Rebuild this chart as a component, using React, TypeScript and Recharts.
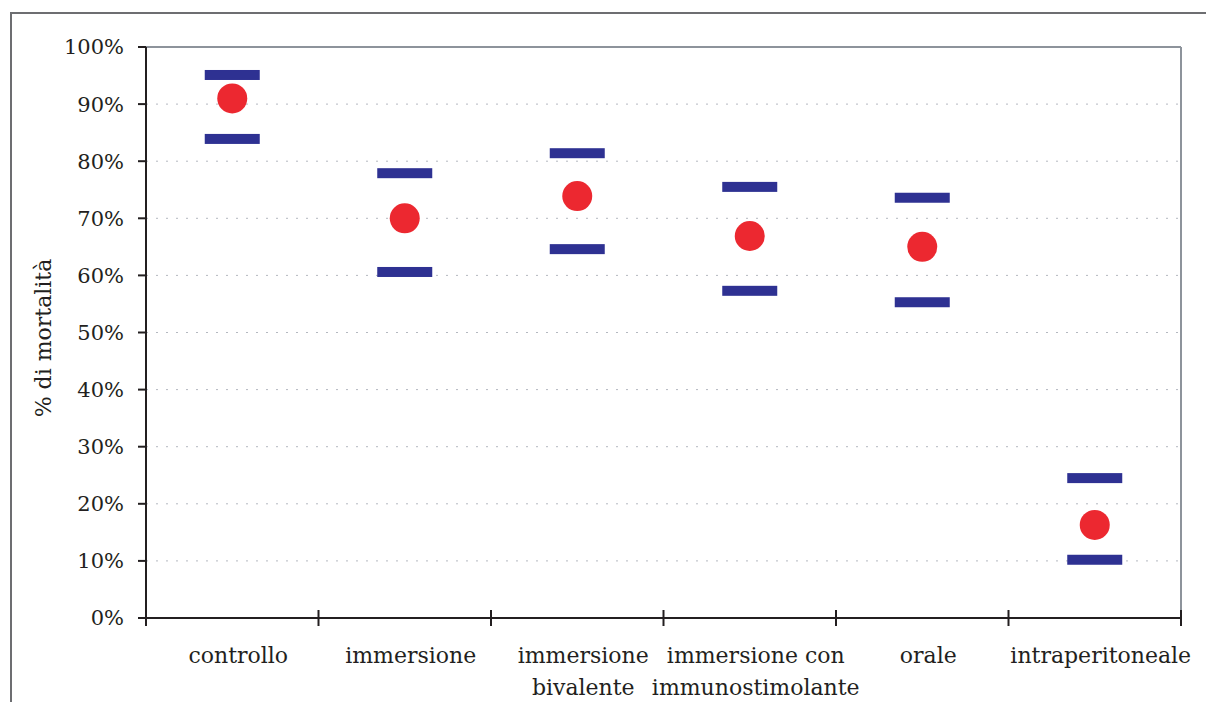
import {
  CartesianGrid,
  ComposedChart,
  ReferenceLine,
  Scatter,
  XAxis,
  YAxis,
} from "recharts";

// treatment groups, with their axis label split over lines
const groups = [
  "controllo",
  "immersione",
  "immersione bivalente",
  "immersione con immunostimolante",
  "orale",
  "intraperitoneale",
];
const groupLines = [
  ["controllo"],
  ["immersione"],
  ["immersione", "bivalente"],
  ["immersione con", "immunostimolante"],
  ["orale"],
  ["intraperitoneale"],
];

// mortality (%) : mean with upper / lower limits
const mortality = [91, 70, 73.9, 66.9, 65, 16.3];
const upperLimit = [95.1, 77.9, 81.4, 75.5, 73.6, 24.5];
const lowerLimit = [83.9, 60.6, 64.6, 57.3, 55.3, 10.2];

const yTicks = [0, 10, 20, 30, 40, 50, 60, 70, 80, 90, 100];
const xTicks = [0, 1, 2, 3, 4, 5, 6];

const toPoints = (vals: number[]) =>
  vals.map((v, i) => ({ x: i + 0.5, y: v, name: groups[i] }));

const meanData = toPoints(mortality);
const upperData = toPoints(upperLimit);
const lowerData = toPoints(lowerLimit);

const FONT = "'DejaVu Serif', serif";
const INK = "#231f20";
const FRAME = "#8d939b";
const BAND = 1035 / 6;

const LimitBar = (props: any) => (
  <rect x={props.cx - 27.5} y={props.cy - 5} width={55} height={10} fill="#2e3192" />
);

const MeanDot = (props: any) => (
  <circle cx={props.cx} cy={props.cy} r={15} fill="#ec2830" />
);

const GroupTick = (props: any) => {
  const { x, y, payload } = props;
  const i = payload.value;
  const lines = groupLines[i] || [];
  const cx = x + BAND / 2 + 6;
  return (
    <g>
      <line x1={x} x2={x} y1={y - 8} y2={y + 8} stroke={INK} strokeWidth={2} />
      {lines.length > 0 && (
        <text x={cx} y={y + 45} textAnchor="middle" fill={INK} fontFamily={FONT} fontSize={22}>
          {lines.map((l, k) => (
            <tspan key={k} x={cx} dy={k === 0 ? 0 : 32}>
              {l}
            </tspan>
          ))}
        </text>
      )}
    </g>
  );
};

const AxisTitle = () => (
  <text
    x={43}
    y={338}
    transform="rotate(-90, 43, 338)"
    textAnchor="middle"
    dominantBaseline="central"
    fill={INK}
    fontFamily={FONT}
    fontSize={22}
  >
    % di mortalità
  </text>
);

export default function App() {
  return (
    <div style={{ position: "absolute", left: 0, top: 0, width: 1206, height: 702, background: "#fff" }}>
      <div
        style={{
          position: "absolute",
          left: 10,
          top: 12,
          right: -10,
          bottom: -10,
          borderLeft: "2px solid #6d6e71",
          borderTop: "2px solid #6d6e71",
        }}
      />
      <ComposedChart
        width={1206}
        height={702}
        margin={{ top: 47, right: 25, bottom: 0, left: 10 }}
        style={{ position: "absolute", left: 0, top: 0 }}
      >
        <CartesianGrid vertical={false} stroke="#b4b8c0" strokeDasharray="2 8" />
        <XAxis
          dataKey="x"
          type="number"
          domain={[0, 6]}
          ticks={xTicks}
          interval={0}
          height={84}
          tickSize={0}
          tickMargin={0}
          tickLine={false}
          tick={<GroupTick />}
          axisLine={{ stroke: INK, strokeWidth: 2 }}
        />
        <YAxis
          dataKey="y"
          type="number"
          domain={[0, 100]}
          ticks={yTicks}
          interval={0}
          width={136}
          tickSize={8}
          tickMargin={14}
          tickFormatter={(v) => `${v}%`}
          tick={{ fill: INK, fontFamily: FONT, fontSize: 21 }}
          tickLine={{ stroke: INK, strokeWidth: 2 }}
          axisLine={{ stroke: INK, strokeWidth: 2 }}
          label={<AxisTitle />}
        />
        <ReferenceLine y={100} stroke={FRAME} strokeWidth={2} />
        <ReferenceLine x={6} stroke={FRAME} strokeWidth={2} />
        <Scatter data={upperData} shape={<LimitBar />} isAnimationActive={false} />
        <Scatter data={lowerData} shape={<LimitBar />} isAnimationActive={false} />
        <Scatter data={meanData} shape={<MeanDot />} isAnimationActive={false} />
      </ComposedChart>
    </div>
  );
}
